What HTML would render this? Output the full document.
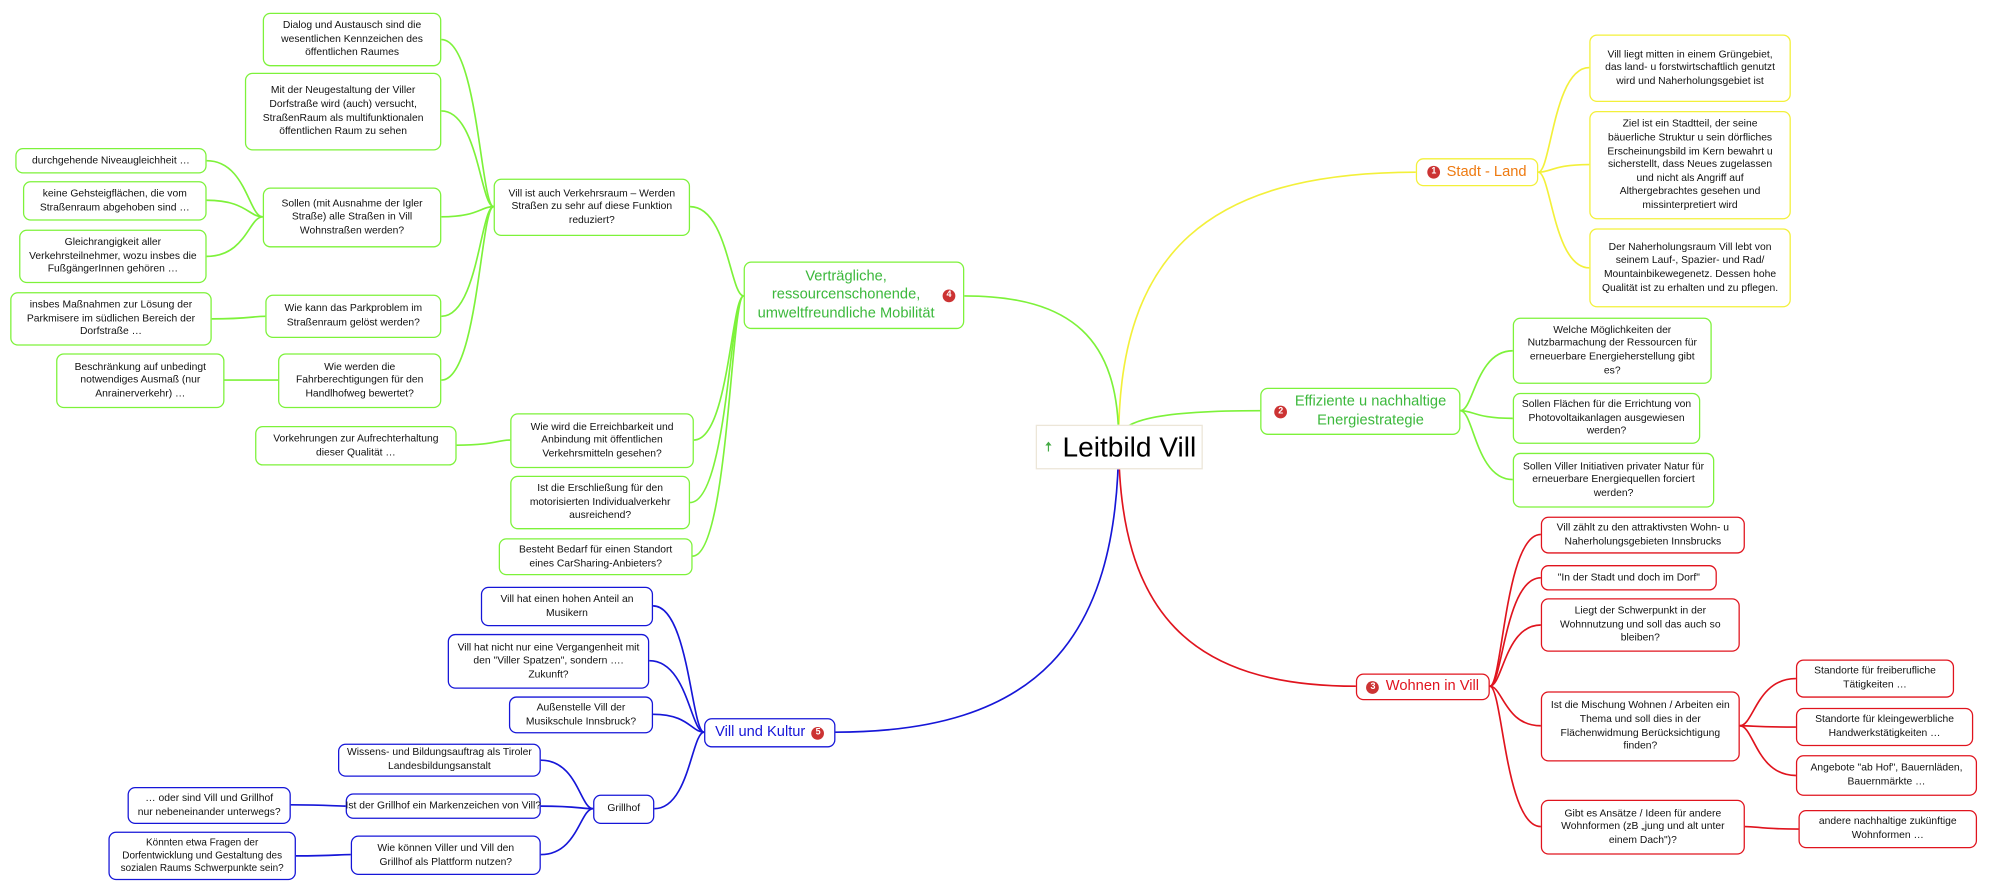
<!DOCTYPE html>
<html><head><meta charset="utf-8"><style>
html,body{margin:0;padding:0;background:#fff;overflow:hidden}
#w{position:absolute;left:0;top:0;width:1568px;height:700px;transform:scale(1.27551);transform-origin:0 0}
.b{position:absolute;box-sizing:border-box;border:1.3px solid;border-radius:6px;background:#fff;display:flex;align-items:center;justify-content:center;text-align:center;font-family:"Liberation Sans",sans-serif;font-size:8.1px;line-height:10.6px;color:#111;padding:0 3px}
.g{border-color:#7df23a}.y{border-color:#f3f03a}.r{border-color:#e0141e}.bl{border-color:#1616d8}
.m{font-size:11.5px;line-height:14.5px;white-space:nowrap}
.badge{display:inline-block;width:10px;height:10px;border-radius:50%;background:#c33;color:#fff;font-size:7px;line-height:10px;text-align:center;font-weight:bold;vertical-align:middle}
svg{position:absolute;left:0;top:0}
</style></head><body><div id="w">
<svg id="s" width="1568" height="700"></svg>

<div class="b" style="left:812px;top:333px;width:131px;height:35px;border-color:#ece6d8;border-radius:0;font-size:22px;line-height:28px;color:#000;justify-content:flex-start;padding-left:6px;white-space:nowrap"><span style="color:#4a4;font-size:11px;margin-right:8px">🠅</span>Leitbild Vill</div>

<div class="b y m" style="left:1110px;top:124px;width:96px;height:22px;color:#ee7a10"><span class="badge" style="margin-right:5px">1</span>Stadt - Land</div>
<div class="b y" style="left:1246px;top:27px;width:158px;height:53px;padding:0 8px">Vill liegt mitten in einem Grüngebiet, das land- u forstwirtschaftlich genutzt wird und Naherholungsgebiet ist</div>
<div class="b y" style="left:1246px;top:87px;width:158px;height:85px;padding:0 6px">Ziel ist ein Stadtteil, der seine bäuerliche Struktur u sein dörfliches Erscheinungsbild im Kern bewahrt u sicherstellt, dass Neues zugelassen und nicht als Angriff auf Althergebrachtes gesehen und missinterpretiert wird</div>
<div class="b y" style="left:1246px;top:179px;width:158px;height:62px;padding:0 6px">Der Naherholungsraum Vill lebt von seinem Lauf-, Spazier- und Rad/ Mountainbikewegenetz. Dessen hohe Qualität ist zu erhalten und zu pflegen.</div>

<div class="b g m" style="left:988px;top:304px;width:157px;height:37px;color:#3cb83c"><span class="badge" style="margin-right:6px">2</span><span>Effiziente u nachhaltige<br>Energiestrategie</span></div>
<div class="b g" style="left:1186px;top:249px;width:156px;height:52px;padding:0 6px">Welche Möglichkeiten der Nutzbarmachung der Ressourcen für erneuerbare Energieherstellung gibt es?</div>
<div class="b g" style="left:1186px;top:308px;width:147px;height:40px;padding:0 6px">Sollen Flächen für die Errichtung von Photovoltaikanlagen ausgewiesen werden?</div>
<div class="b g" style="left:1186px;top:355px;width:158px;height:43px;padding:0 6px">Sollen Viller Initiativen privater Natur für erneuerbare Energiequellen forciert werden?</div>

<div class="b r m" style="left:1063px;top:528px;width:105px;height:21px;color:#e0141e"><span class="badge" style="margin-right:5px">3</span>Wohnen in Vill</div>
<div class="b r" style="left:1208px;top:405px;width:160px;height:29px;padding:0 6px">Vill zählt zu den attraktivsten Wohn- u Naherholungsgebieten Innsbrucks</div>
<div class="b r" style="left:1208px;top:443px;width:138px;height:20px">"In der Stadt und doch im Dorf"</div>
<div class="b r" style="left:1208px;top:469px;width:156px;height:42px;padding:0 10px">Liegt der Schwerpunkt in der Wohnnutzung und soll das auch so bleiben?</div>
<div class="b r" style="left:1208px;top:542px;width:156px;height:55px;padding:0 6px">Ist die Mischung Wohnen / Arbeiten ein Thema und soll dies in der Flächenwidmung Berücksichtigung finden?</div>
<div class="b r" style="left:1408px;top:517px;width:124px;height:30px;padding:0 8px">Standorte für freiberufliche Tätigkeiten …</div>
<div class="b r" style="left:1408px;top:555px;width:139px;height:30px;padding:0 8px">Standorte für kleingewerbliche Handwerkstätigkeiten …</div>
<div class="b r" style="left:1408px;top:592px;width:142px;height:32px;padding:0 6px">Angebote "ab Hof", Bauernläden, Bauernmärkte …</div>
<div class="b r" style="left:1208px;top:627px;width:160px;height:43px;padding:0 8px">Gibt es Ansätze / Ideen für andere Wohnformen (zB „jung und alt unter einem Dach")?</div>
<div class="b r" style="left:1410px;top:635px;width:140px;height:30px;padding:0 8px">andere nachhaltige zukünftige Wohnformen …</div>

<div class="b g m" style="left:583px;top:205px;width:173px;height:53px;color:#3cb83c;justify-content:flex-start;padding-left:10px"><span>Verträgliche,<br>ressourcenschonende,<br>umweltfreundliche Mobilität</span><span class="badge" style="position:absolute;right:6px;top:21px">4</span></div>
<div class="b g" style="left:387px;top:140px;width:154px;height:45px;padding:0 8px">Vill ist auch Verkehrsraum – Werden Straßen zu sehr auf diese Funktion reduziert?</div>
<div class="b g" style="left:206px;top:10px;width:140px;height:42px;padding:0 6px">Dialog und Austausch sind die wesentlichen Kennzeichen des öffentlichen Raumes</div>
<div class="b g" style="left:192px;top:57px;width:154px;height:61px;padding:0 6px">Mit der Neugestaltung der Viller Dorfstraße wird (auch) versucht, StraßenRaum als multifunktionalen öffentlichen Raum zu sehen</div>
<div class="b g" style="left:206px;top:147px;width:140px;height:47px;padding:0 6px">Sollen (mit Ausnahme der Igler Straße) alle Straßen in Vill Wohnstraßen werden?</div>
<div class="b g" style="left:12px;top:116px;width:150px;height:20px">durchgehende Niveaugleichheit …</div>
<div class="b g" style="left:18px;top:142px;width:144px;height:31px;padding:0 6px">keine Gehsteigflächen, die vom Straßenraum abgehoben sind …</div>
<div class="b g" style="left:15px;top:180px;width:147px;height:42px;padding:0 6px">Gleichrangigkeit aller Verkehrsteilnehmer, wozu insbes die FußgängerInnen gehören …</div>
<div class="b g" style="left:208px;top:231px;width:138px;height:34px;padding:0 6px">Wie kann das Parkproblem im Straßenraum gelöst werden?</div>
<div class="b g" style="left:8px;top:229px;width:158px;height:42px;padding:0 6px">insbes Maßnahmen zur Lösung der Parkmisere im südlichen Bereich der Dorfstraße …</div>
<div class="b g" style="left:218px;top:277px;width:128px;height:43px;padding:0 6px">Wie werden die Fahrberechtigungen für den Handlhofweg bewertet?</div>
<div class="b g" style="left:44px;top:277px;width:132px;height:43px;padding:0 6px">Beschränkung auf unbedingt notwendiges Ausmaß (nur Anrainerverkehr) …</div>
<div class="b g" style="left:400px;top:324px;width:144px;height:43px;padding:0 6px">Wie wird die Erreichbarkeit und Anbindung mit öffentlichen Verkehrsmitteln gesehen?</div>
<div class="b g" style="left:200px;top:334px;width:158px;height:31px;padding:0 6px">Vorkehrungen zur Aufrechterhaltung dieser Qualität …</div>
<div class="b g" style="left:400px;top:373px;width:141px;height:42px;padding:0 8px">Ist die Erschließung für den motorisierten Individualverkehr ausreichend?</div>
<div class="b g" style="left:391px;top:422px;width:152px;height:29px;padding:0 8px">Besteht Bedarf für einen Standort eines CarSharing-Anbieters?</div>

<div class="b bl m" style="left:552px;top:563px;width:103px;height:23px;color:#1616d8">Vill und Kultur<span class="badge" style="margin-left:5px">5</span></div>
<div class="b bl" style="left:377px;top:460px;width:135px;height:31px;padding:0 8px">Vill hat einen hohen Anteil an Musikern</div>
<div class="b bl" style="left:351px;top:497px;width:158px;height:43px;padding:0 6px">Vill hat nicht nur eine Vergangenheit mit den "Viller Spatzen", sondern …. Zukunft?</div>
<div class="b bl" style="left:399px;top:546px;width:113px;height:29px;padding:0 6px">Außenstelle Vill der Musikschule Innsbruck?</div>
<div class="b bl" style="left:465px;top:623px;width:48px;height:23px">Grillhof</div>
<div class="b bl" style="left:265px;top:583px;width:159px;height:26px;padding:0 6px">Wissens- und Bildungsauftrag als Tiroler Landesbildungsanstalt</div>
<div class="b bl" style="left:271px;top:622px;width:153px;height:20px;white-space:nowrap">Ist der Grillhof ein Markenzeichen von Vill?</div>
<div class="b bl" style="left:275px;top:655px;width:149px;height:31px;padding:0 8px">Wie können Viller und Vill den Grillhof als Plattform nutzen?</div>
<div class="b bl" style="left:100px;top:617px;width:128px;height:29px;padding:0 6px">… oder sind Vill und Grillhof nur nebeneinander unterwegs?</div>
<div class="b bl" style="left:85px;top:652px;width:147px;height:38px;padding:0 3px;font-size:7.8px;line-height:10px">Könnten etwa Fragen der Dorfentwicklung und Gestaltung des sozialen Raums Schwerpunkte sein?</div>
</div>
<script>
var E=[
[877,345,1110,135,'#f3f03a',1],[877,345,988,322,'#7df23a',1],[877,345,1063,538,'#e0141e',1],[877,345,756,232,'#7df23a',1],[877,345,655,574,'#1616d8',1],
[1206,135,1246,53,'#f3f03a'],[1206,135,1246,129,'#f3f03a'],[1206,135,1246,210,'#f3f03a'],
[1145,322,1186,275,'#7df23a'],[1145,322,1186,328,'#7df23a'],[1145,322,1186,376,'#7df23a'],
[1168,538,1208,419,'#e0141e'],[1168,538,1208,453,'#e0141e'],[1168,538,1208,490,'#e0141e'],[1168,538,1208,569,'#e0141e'],[1168,538,1208,648,'#e0141e'],
[1364,569,1408,532,'#e0141e'],[1364,569,1408,570,'#e0141e'],[1364,569,1408,608,'#e0141e'],[1368,648,1410,650,'#e0141e'],
[583,232,541,162,'#7df23a'],[583,232,544,345,'#7df23a'],[583,232,541,394,'#7df23a'],[583,232,543,436,'#7df23a'],
[387,162,346,31,'#7df23a'],[387,162,346,87,'#7df23a'],[387,162,346,170,'#7df23a'],[387,162,346,248,'#7df23a'],[387,162,346,298,'#7df23a'],
[206,170,162,126,'#7df23a'],[206,170,162,157,'#7df23a'],[206,170,162,201,'#7df23a'],
[208,248,166,250,'#7df23a'],[218,298,176,298,'#7df23a'],[400,345,358,349,'#7df23a'],
[552,574,512,475,'#1616d8'],[552,574,509,518,'#1616d8'],[552,574,512,560,'#1616d8'],[552,574,513,634,'#1616d8'],
[465,634,424,596,'#1616d8'],[465,634,424,632,'#1616d8'],[465,634,424,670,'#1616d8'],
[271,632,228,631,'#1616d8'],[275,670,232,671,'#1616d8']];
var s='';E.forEach(function(e){var x1=e[0],y1=e[1],x2=e[2],y2=e[3],d;
if(e[5]){d='M'+x1+' '+y1+' C'+x1+' '+(y1+(y2-y1)*0.7)+' '+(x1+(x2-x1)*0.3)+' '+y2+' '+x2+' '+y2;}
else{d='M'+x1+' '+y1+' C'+(x1+(x2-x1)*0.25)+' '+y1+' '+(x1+(x2-x1)*0.3)+' '+y2+' '+x2+' '+y2;}
s+='<path d="'+d+'" fill="none" stroke="'+e[4]+'" stroke-width="1.3"/>';});
document.getElementById('s').innerHTML=s;
</script>
</body></html>
